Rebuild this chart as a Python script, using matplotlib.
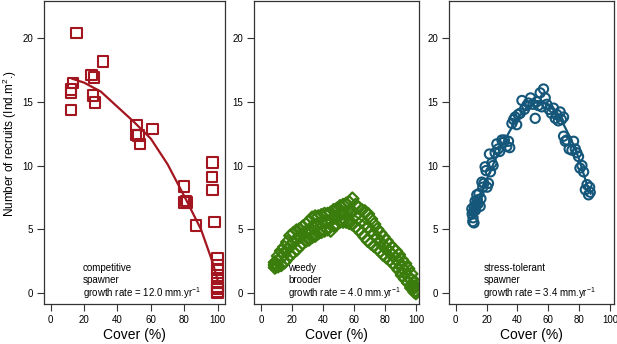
import numpy as np
import matplotlib.pyplot as plt

plt.rcParams['font.family'] = ['Liberation Sans', 'DejaVu Sans']
plt.rcParams['mathtext.fontset'] = 'custom'
plt.rcParams['mathtext.rm'] = 'Liberation Sans'
plt.rcParams['mathtext.it'] = 'Liberation Sans:italic'

# competitive spawner (red squares)
red_cover = [15.5, 31.5, 13.2, 12.2, 12.2, 12.2, 24.5, 26.0, 25.2, 26.4,
             51.5, 51.0, 52.7, 53.5, 61.0, 80.0, 80.0, 81.0, 81.5, 87.0,
             96.8, 96.5, 96.8, 98.0, 100, 100, 100, 100, 100, 100, 100, 100, 100]
red_rec = [20.4, 18.15, 16.45, 15.95, 15.7, 14.35, 17.1, 16.9, 15.5, 14.95,
           13.2, 12.4, 12.35, 11.7, 12.85, 8.35, 7.1, 7.2, 7.1, 5.3,
           10.25, 9.1, 8.1, 5.55, 2.7, 2.2, 1.8, 1.2, 0.8, 0.5, 0.3, 0.1, 0.0]
red_fit_x = [13, 20, 30, 40, 50, 60, 70, 80, 90, 97, 100]
red_fit_y = [16.8, 16.5, 15.8, 14.6, 13.4, 12.1, 10.1, 7.6, 5.0, 2.4, 1.0]

# weedy brooder (green diamonds) - lower, middle and upper edge of the band
green_cover = [9, 11, 13, 15, 17, 19, 21, 23, 25, 27, 29, 31, 33, 35, 37, 39,
               41, 43, 45, 47, 49, 51, 53, 55, 57, 59, 61, 63, 65, 67, 69, 71,
               73, 75, 77, 79, 81, 83, 85, 87, 89, 91, 93, 95, 97, 99, 100]
green_lo = [2.0, 2.1, 2.2, 2.4, 2.7, 3.0, 3.2, 3.4, 3.7, 3.9,
            4.1, 4.2, 4.4, 4.5, 4.7, 4.8, 4.9, 5.0, 4.9, 5.3,
            5.4, 5.6, 5.6, 5.6, 5.5, 5.4, 5.2, 5.0, 4.7, 4.4,
            4.1, 3.9, 3.7, 3.5, 3.3, 3.0, 2.8, 2.6, 2.4, 2.1,
            1.8, 1.4, 1.1, 0.8, 0.4, 0.1, 0.0]
green_mid = [2.2, 2.5, 2.8, 3.0, 3.4, 3.7, 4.0, 4.2, 4.4, 4.6,
             4.8, 4.9, 5.2, 5.3, 5.4, 5.5, 5.6, 5.6, 5.7, 5.9,
             6.0, 6.2, 6.3, 6.3, 6.3, 6.4, 6.1, 5.9, 5.6, 5.4,
             5.2, 4.9, 4.6, 4.3, 4.0, 3.7, 3.5, 3.2, 3.0, 2.7,
             2.4, 2.0, 1.7, 1.3, 1.0, 0.5, 0.2]
green_hi = [2.4, 2.9, 3.3, 3.6, 4.0, 4.5, 4.7, 4.9, 5.0, 5.2,
            5.4, 5.6, 5.9, 6.0, 6.0, 6.1, 6.2, 6.2, 6.3, 6.5,
            6.6, 6.8, 6.9, 7.0, 7.1, 7.4, 6.9, 6.7, 6.5, 6.4,
            6.2, 5.8, 5.4, 5.0, 4.7, 4.4, 4.1, 3.8, 3.5, 3.3,
            3.0, 2.6, 2.3, 1.9, 1.5, 0.9, 0.5]
green_fit_x = [10, 20, 30, 40, 50, 60, 70, 80, 90, 100]
green_fit_y = [2.2, 3.8, 4.9, 5.6, 6.1, 6.1, 5.3, 3.6, 2.2, 0.3]

# stress-tolerant spawner (blue circles)
blue_cover = [10.4, 10.6, 11.0, 11.2, 11.5, 11.8, 12.0, 12.5, 12.8, 13.2,
              13.6, 14.0, 14.5, 15.0, 15.8, 16.3, 16.9, 17.5, 18.2, 19.0,
              19.6, 20.3, 21.2, 21.8, 22.5, 23.4, 24.2, 25.5, 26.6, 27.5,
              28.5, 29.9, 30.8, 31.5, 33.1, 34.2, 35.0, 36.4, 37.5, 38.5,
              39.5, 40.5, 41.8, 42.9, 44.5, 46.0, 47.1, 48.5, 50.0, 51.5,
              52.5, 53.5, 54.7, 55.8, 56.9, 58.0, 59.0, 60.5, 62.0, 63.4,
              64.5, 65.5, 66.5, 67.7, 68.5, 69.9, 69.9, 71.0, 72.0, 73.5,
              75.3, 76.4, 77.5, 78.5, 79.6, 80.5, 81.8, 82.9, 84.0, 85.1,
              86.1, 86.8, 87.2]
blue_rec = [6.6, 6.2, 5.6, 5.9, 6.4, 5.5, 6.8, 7.2, 6.5, 6.9,
            7.7, 7.3, 7.0, 7.8, 6.8, 7.4, 8.7, 8.3, 8.6, 9.9,
            9.6, 8.3, 8.6, 10.9, 9.5, 10.2, 10.0, 11.0, 11.7, 11.3,
            11.1, 12.0, 11.8, 12.0, 11.5, 11.9, 11.4, 13.3, 13.6, 13.8,
            13.2, 14.0, 14.1, 15.1, 14.4, 14.7, 14.9, 15.3, 14.8, 13.7,
            15.0, 14.7, 15.7, 14.6, 16.0, 15.3, 14.8, 14.4, 14.1, 14.5,
            13.7, 14.0, 13.5, 14.2, 13.6, 13.8, 12.3, 11.9, 12.0, 11.3,
            11.2, 11.9, 11.3, 11.0, 10.7, 9.8, 10.0, 9.5, 8.1, 8.5,
            7.7, 8.3, 7.9]
blue_fit_x = [10, 15, 20, 25, 30, 35, 40, 45, 50, 55, 60, 65, 70, 75, 80, 85, 87.5]
blue_fit_y = [6.1, 7.4, 8.9, 10.3, 11.6, 12.7, 13.7, 14.4, 14.9, 15.0, 14.8,
              14.3, 13.2, 12.0, 10.5, 8.5, 7.8]

red = '#A3161F'
green = '#3B7D0C'
blue = '#15577A'

fig = plt.figure(figsize=(6.17, 3.44), dpi=100)
bottom = 1 - 304 / 344
height = 303 / 344
ax1 = fig.add_axes([44 / 617, bottom, 181 / 617, height])
ax2 = fig.add_axes([254 / 617, bottom, 165 / 617, height])
ax3 = fig.add_axes([449 / 617, bottom, 165 / 617, height])

ax1.plot(red_fit_x, red_fit_y, color=red, lw=1.6)
ax1.scatter(red_cover, red_rec, marker='s', s=56, facecolors='none',
            edgecolors=red, linewidths=1.5)

ax2.plot(green_fit_x, green_fit_y, color=green, lw=1.6)
for gy in [green_lo, green_mid, green_hi]:
    ax2.scatter(green_cover, gy, marker='D', s=40, facecolors='none',
                edgecolors=green, linewidths=1.6)

ax3.plot(blue_fit_x, blue_fit_y, color=blue, lw=1.6)
ax3.scatter(blue_cover, blue_rec, marker='o', s=44, facecolors='none',
            edgecolors=blue, linewidths=1.5)

ax1.set_xlim(-4, 104.4)
ax2.set_xlim(-4.5, 102)
ax3.set_xlim(-4.4, 102.6)

labels = [(ax1, 19.2, ['competitive', 'spawner'], '12.0'),
          (ax2, 17.6, ['weedy', 'brooder'], '4.0'),
          (ax3, 17.9, ['stress-tolerant', 'spawner'], '3.4')]

for ax, tx, words, rate in labels:
    ax.set_ylim(-0.86, 22.9)
    ax.set_xticks([0, 20, 40, 60, 80, 100])
    ax.set_yticks([0, 5, 10, 15, 20])
    ax.tick_params(direction='out', length=5, width=0.8, labelsize=7,
                   color='#333333', pad=3)
    for sp in ax.spines.values():
        sp.set_linewidth(0.9)
        sp.set_color('#333333')
    ax.set_xlabel('Cover (%)', fontsize=10, labelpad=2)
    ax.text(tx, 1.95, words[0], fontsize=7, va='center')
    ax.text(tx, 1.0, words[1], fontsize=7, va='center')
    ax.text(tx, -0.03, 'growth rate = ' + rate + ' mm.yr$^{-1}$', fontsize=7,
            va='center')

ax1.set_ylabel('Number of recruits (Ind.m$^{2}$.)', fontsize=8.5)
ax1.yaxis.set_label_coords(-0.14, 0.53)

plt.savefig('out.png', dpi=100)
